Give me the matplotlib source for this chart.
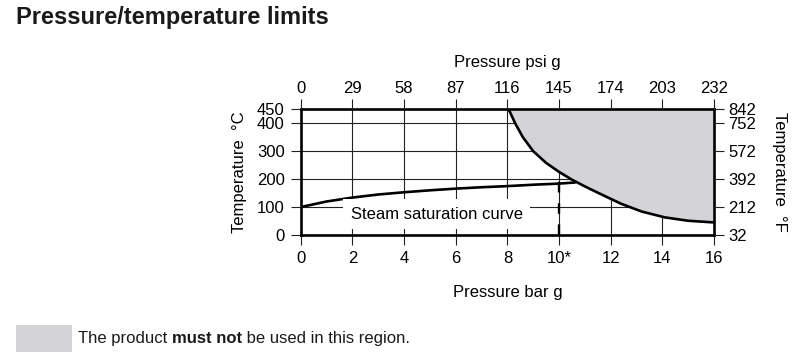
import numpy as np
import matplotlib
matplotlib.use("Agg")
import matplotlib.pyplot as plt
from matplotlib.patches import Rectangle

plt.rcParams['font.family'] = ['Liberation Sans', 'DejaVu Sans']

# bar g ticks and their psi g equivalents
bar_ticks = [0, 2, 4, 6, 8, 10, 12, 14, 16]
bar_labels = ['0', '2', '4', '6', '8', '10*', '12', '14', '16']
psi_labels = ['0', '29', '58', '87', '116', '145', '174', '203', '232']

# degC ticks and their degF equivalents
c_ticks = [0, 100, 200, 300, 400, 450]
f_labels = ['32', '212', '392', '572', '752', '842']

# steam saturation curve (bar g, degC)
sat_p = [0, 1, 2, 3, 4, 5, 6, 7, 8, 9, 10, 10.6]
sat_t = [100, 120, 134, 145, 153, 160, 166, 171, 175, 180, 184, 188]

# limit curve (bar g, degC)
lim_p = [8.05, 8.3, 8.6, 9.0, 9.5, 10.0, 10.5, 11.0, 11.6, 12.4, 13.2, 14.1, 15.0, 16.0]
lim_t = [450, 400, 350, 300, 258, 226, 198, 174, 147, 112, 84, 63, 51, 45]

# design pressure marker
mark_p = 10
mark_t = 200

shade = '#d3d3d8'
lw = 1.9
fs = 12

fig = plt.figure(figsize=(8, 3.64), dpi=100)
ax = fig.add_axes([0.376, 0.3544, 0.5165, 0.3453])

ax.set_xlim(0, 16)
ax.set_ylim(0, 450)
ax.set_xticks(bar_ticks)
ax.set_xticklabels(bar_labels)
ax.set_yticks(c_ticks)
ax.grid(True, color='#222222', lw=0.8, zorder=0)
ax.set_axisbelow(True)

ax.fill_between(lim_p, lim_t, 450, color=shade, lw=0, zorder=2)
ax.plot(lim_p, lim_t, color='black', lw=lw, zorder=3)
ax.plot(sat_p, sat_t, color='black', lw=lw, zorder=3)
ax.plot([mark_p, mark_p], [0, mark_t], color='black', lw=1.7,
        dashes=(4.5, 4.5), zorder=3)

ax.text(5.27, 75, 'Steam saturation curve', fontsize=fs, ha='center',
        va='center', zorder=4,
        bbox=dict(boxstyle='square,pad=0.45', fc='white', ec='none'))

for s in ax.spines.values():
    s.set_linewidth(lw)
    s.set_zorder(5)
ax.tick_params(direction='out', length=7.5, width=0.8, labelsize=fs,
               color='#222222', pad=4)
ax.set_xlabel('Pressure bar g', fontsize=fs, labelpad=14)
ax.set_ylabel('Temperature  °C', fontsize=fs, labelpad=7)

ax_top = ax.twiny()
ax_top.set_xlim(ax.get_xlim())
ax_top.set_xticks(bar_ticks)
ax_top.set_xticklabels(psi_labels)
ax_top.tick_params(direction='out', length=7.5, width=0.8, labelsize=fs,
                   color='#222222', pad=2)
ax_top.set_xlabel('Pressure psi g', fontsize=fs, labelpad=10)

ax_r = ax.twinx()
ax_r.set_ylim(ax.get_ylim())
ax_r.set_yticks(c_ticks)
ax_r.set_yticklabels(f_labels)
ax_r.tick_params(direction='out', length=7.5, width=0.8, labelsize=fs,
                 color='#222222', pad=3)
ax_r.set_ylabel('Temperature  °F', fontsize=fs, rotation=-90, labelpad=22)

for a in (ax_top, ax_r):
    for s in a.spines.values():
        s.set_visible(False)

fig.text(0.02, 0.953, 'Pressure/temperature limits', fontsize=17,
         fontweight='bold', va='center', ha='left', color='#1a1a1a')

# legend patch and mixed-weight text
fig.patches.append(Rectangle((0.02, 0.033), 0.07, 0.074, transform=fig.transFigure,
                             fc=shade, ec='none'))
parts = [('The product ', 'normal'), ('must not', 'bold'),
         (' be used in this region.', 'normal')]
fig.canvas.draw()
r = fig.canvas.get_renderer()
x0 = 0.0975
for txt, wt in parts:
    t = fig.text(x0, 0.069, txt, fontsize=fs, fontweight=wt, va='center',
                 ha='left', color='#1a1a1a')
    bb = t.get_window_extent(renderer=r)
    x0 += bb.width / fig.bbox.width

fig.savefig('out.png', dpi=100)
